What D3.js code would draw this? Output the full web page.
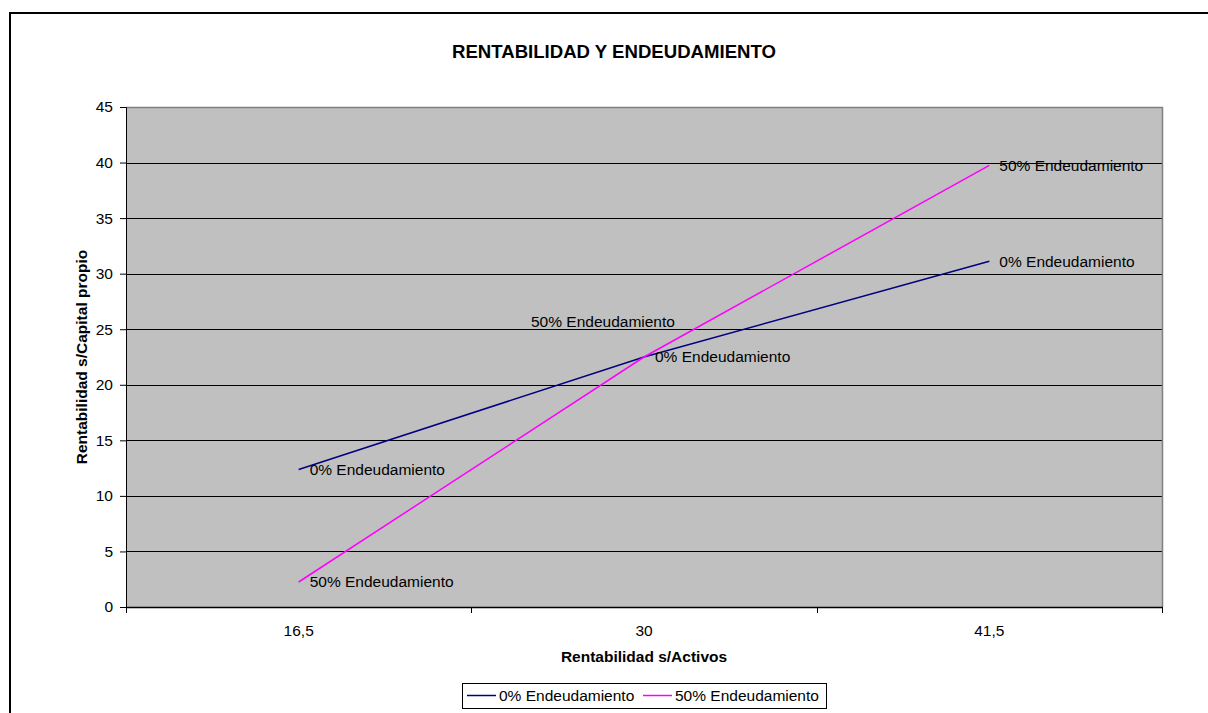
<!DOCTYPE html>
<html>
<head>
<meta charset="utf-8">
<script src="https://cdn.jsdelivr.net/npm/d3@7"></script>
<style>
  html, body { margin: 0; padding: 0; background: #fff; }
  svg { display: block; font-family: "Liberation Sans", Arial, sans-serif; }
</style>
</head>
<body>
<svg id="chart" width="1208" height="713"></svg>
<script>
// Return on assets (category axis) and resulting return on equity per financing mix
const categories = ["16,5", "30", "41,5"];
const seriesNames = ["0% Endeudamiento", "50% Endeudamiento"];
const values0 = [12.375, 22.5, 31.125];
const values50 = [2.25, 22.5, 39.75];
const yTicks = [0, 5, 10, 15, 20, 25, 30, 35, 40, 45];
const colors = ["#000080", "#FF00FF"];

const FS = 15.5;
const svg = d3.select("#chart");
const plot = { left: 126, right: 1162, top: 107, bottom: 607 };

// Outer frame (runs off the right and bottom edges)
svg.append("rect")
  .attr("x", 10).attr("y", 13)
  .attr("width", 1300).attr("height", 800)
  .attr("fill", "none").attr("stroke", "#000").attr("stroke-width", 2);

const x = d3.scaleBand().domain(categories).range([plot.left, plot.right]).padding(0);
const y = d3.scaleLinear().domain([0, 45]).range([plot.bottom, plot.top]);
const cx = c => x(c) + x.bandwidth() / 2;

// Plot background
svg.append("rect")
  .attr("x", plot.left).attr("y", plot.top)
  .attr("width", plot.right - plot.left).attr("height", plot.bottom - plot.top)
  .attr("fill", "#C0C0C0");

// Horizontal gridlines
svg.append("g").selectAll("line")
  .data(yTicks.filter(t => t > 0 && t < 45))
  .join("line")
  .attr("x1", plot.left).attr("x2", plot.right)
  .attr("y1", d => Math.round(y(d)) + 0.5).attr("y2", d => Math.round(y(d)) + 0.5)
  .attr("stroke", "#000").attr("stroke-width", 1);

// Top and right plot border
svg.append("path")
  .attr("d", `M${plot.left},${plot.top + 0.5}H${plot.right + 0.5}V${plot.bottom}`)
  .attr("fill", "none").attr("stroke", "#808080").attr("stroke-width", 1.5);

// Y axis
const yAxis = svg.append("g")
  .attr("transform", `translate(${plot.left},0)`)
  .call(d3.axisLeft(y).tickValues(yTicks).tickSize(6).tickPadding(7).tickFormat(d3.format("d")));
yAxis.select(".domain").attr("stroke", "#000");
yAxis.selectAll(".tick line").attr("stroke", "#000");
yAxis.selectAll("text").attr("font-size", FS).attr("fill", "#000")
  .attr("font-family", "'Liberation Sans', Arial, sans-serif");

// X axis: ticks at category boundaries, labels at band centres
const xg = svg.append("g").attr("transform", `translate(0,${plot.bottom})`);
xg.append("line")
  .attr("x1", plot.left).attr("x2", plot.right + 1)
  .attr("y1", 0.5).attr("y2", 0.5).attr("stroke", "#000").attr("stroke-width", 1.5);
const boundaries = categories.map(c => x(c)).concat([x.range()[1]]);
xg.selectAll(".bt").data(boundaries).join("line")
  .attr("class", "bt")
  .attr("x1", d => Math.round(d) + 0.5).attr("x2", d => Math.round(d) + 0.5)
  .attr("y1", 0).attr("y2", 6).attr("stroke", "#000");
xg.selectAll(".lbl").data(categories).join("text")
  .attr("class", "lbl")
  .attr("x", d => cx(d)).attr("y", 29)
  .attr("text-anchor", "middle").attr("font-size", FS).attr("fill", "#000")
  .text(d => d);

// Lines
const series = [values0, values50];
const line = d3.line().x((d, i) => cx(categories[i])).y(d => y(d));
series.forEach((vals, s) => {
  svg.append("path")
    .datum(vals)
    .attr("d", line)
    .attr("fill", "none")
    .attr("stroke", colors[s])
    .attr("stroke-width", 1.5);
});

// Data labels (series name placed beside each point)
const labelOffsets = [
  [[11, 0], [11, 0], [10, 0]],
  [[11, 0], [-113, -35], [10, 0]]
];
series.forEach((vals, s) => {
  svg.append("g").selectAll("text").data(vals).join("text")
    .attr("x", (d, i) => cx(categories[i]) + labelOffsets[s][i][0])
    .attr("y", (d, i) => y(d) + labelOffsets[s][i][1])
    .attr("dy", "0.35em")
    .attr("font-size", FS).attr("fill", "#000")
    .text(seriesNames[s]);
});

// Title
svg.append("text")
  .attr("x", 614).attr("y", 58)
  .attr("text-anchor", "middle").attr("font-weight", "bold").attr("font-size", 18.6)
  .text("RENTABILIDAD Y ENDEUDAMIENTO");

// Axis titles
svg.append("text")
  .attr("x", 644).attr("y", 662)
  .attr("text-anchor", "middle").attr("font-weight", "bold").attr("font-size", FS)
  .text("Rentabilidad s/Activos");
svg.append("text")
  .attr("transform", `translate(87,${(plot.top + plot.bottom) / 2}) rotate(-90)`)
  .attr("text-anchor", "middle").attr("font-weight", "bold").attr("font-size", FS)
  .text("Rentabilidad s/Capital propio");

// Legend
const legend = svg.append("g");
legend.append("rect")
  .attr("x", 462.5).attr("y", 683.5).attr("width", 364).attr("height", 25)
  .attr("fill", "#fff").attr("stroke", "#000").attr("stroke-width", 1);
const legendItems = [{ x: 467 }, { x: 643 }];
legendItems.forEach((it, s) => {
  legend.append("line")
    .attr("x1", it.x).attr("x2", it.x + 29)
    .attr("y1", 695.5).attr("y2", 695.5)
    .attr("stroke", colors[s]).attr("stroke-width", 1.5);
  legend.append("text")
    .attr("x", it.x + 32).attr("y", 696).attr("dy", "0.35em")
    .attr("font-size", FS).attr("fill", "#000")
    .text(seriesNames[s]);
});
</script>
</body>
</html>
